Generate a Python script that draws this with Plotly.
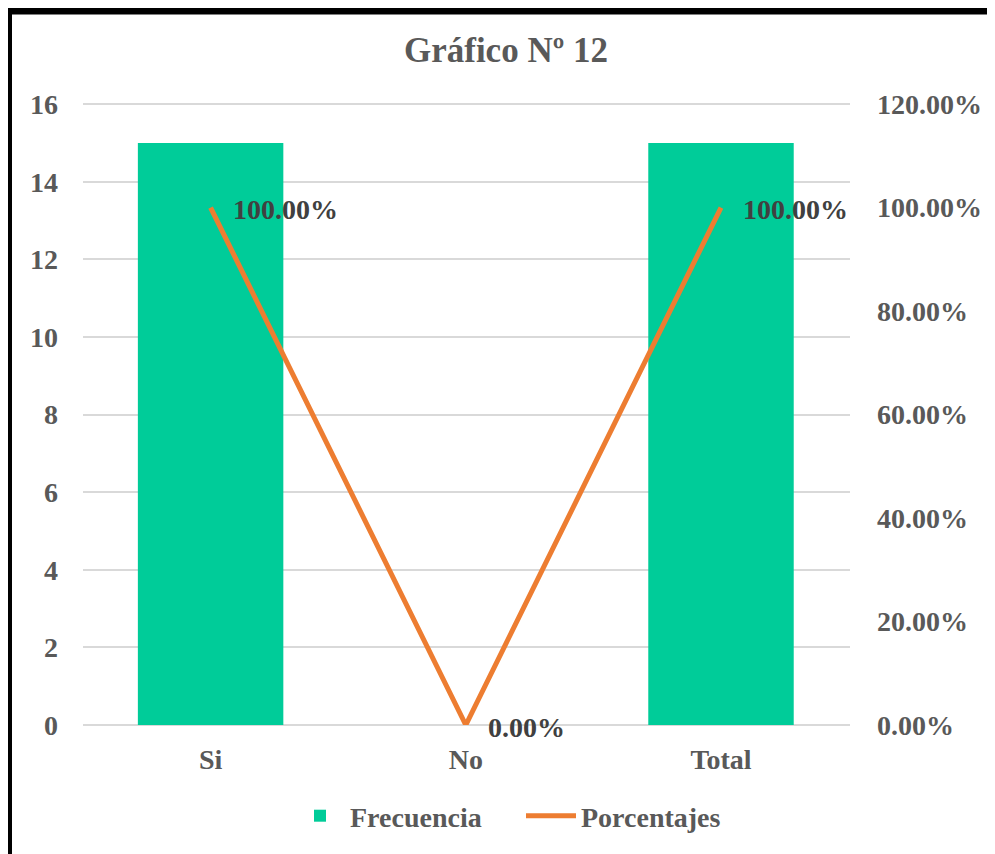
import plotly.graph_objects as go

categories = ["Si", "No", "Total"]
frecuencia = [15, 0, 15]
porcentajes = [1.0, 0.0, 1.0]
pct_labels = ["100.00%", "0.00%", "100.00%"]

FONT = "Liberation Serif, Times New Roman, serif"
GREY = "#595959"

# page body has an 8px margin; compensate so positions match the reference
OFF = 8
L, T = 83 - OFF, 103 - OFF
PW, PH = 767, 622
R = 995 - (L + PW)
B = 854 - (T + PH)

fig = go.Figure()
fig.add_trace(go.Bar(
    x=categories, y=frecuencia, name="Frecuencia",
    marker=dict(color="#00CC99", line=dict(width=0)),
    width=0.57, yaxis="y",
))
fig.add_trace(go.Scatter(
    x=categories, y=porcentajes, name="Porcentajes",
    mode="lines", line=dict(color="#ED7D31", width=5),
    yaxis="y2",
))

annotations = []
for c, v, t in zip(categories, porcentajes, pct_labels):
    annotations.append(dict(
        x=c, y=v, xref="x", yref="y2", text=t, showarrow=False,
        xanchor="left", yanchor="middle", xshift=20, yshift=-2,
        font=dict(family=FONT, size=28, color="#404040", weight="bold"),
    ))

fig.update_layout(
    width=995, height=854,
    paper_bgcolor="white", plot_bgcolor="white",
    margin=dict(l=L, r=R, t=T, b=B),
    title=dict(text="Gráfico Nº 12", x=(506 - OFF) / 995, xanchor="center",
               y=1 - (50 - OFF) / 854, yanchor="middle", yref="container",
               font=dict(family=FONT, size=35, color=GREY, weight="bold")),
    xaxis=dict(showgrid=False, showline=False, ticks="",
               tickfont=dict(family=FONT, size=28, color=GREY, weight="bold"),
               ticklabelstandoff=15),
    yaxis=dict(range=[0, 16.03], tickvals=[0, 2, 4, 6, 8, 10, 12, 14, 16],
               showgrid=True, gridcolor="#D9D9D9",
               gridwidth=1.5, zeroline=True, zerolinecolor="#D9D9D9",
               zerolinewidth=2, showline=False, ticks="",
               tickfont=dict(family=FONT, size=28, color=GREY, weight="bold"),
               ticklabelstandoff=24),
    yaxis2=dict(range=[0, 1.2 * 16.03 / 16], tickvals=[0, 0.2, 0.4, 0.6, 0.8, 1.0, 1.2],
                tickformat=".2%", overlaying="y",
                side="right", showgrid=False, zeroline=False, showline=False,
                ticks="",
                tickfont=dict(family=FONT, size=28, color=GREY, weight="bold"),
                ticklabelstandoff=26),
    legend=dict(orientation="h", xref="container", x=(290 - OFF) / 995,
                xanchor="left", entrywidth=166, entrywidthmode="pixels",
                yref="container", y=1 - (816 - OFF) / 854, yanchor="middle",
                font=dict(family=FONT, size=28, color=GREY, weight="bold"),
                itemwidth=50, bgcolor="rgba(0,0,0,0)"),
    annotations=annotations,
    bargap=0.43,
    showlegend=True,
)

# chart border (left and top visible)
fig.add_shape(type="rect", xref="paper", yref="paper",
              x0=(8.5 - 83) / PW, x1=1.25, y0=-0.3, y1=(725 - 11) / PH,
              line=dict(color="black", width=7), fillcolor="rgba(0,0,0,0)",
              layer="above")

fig.write_html("out.html")
